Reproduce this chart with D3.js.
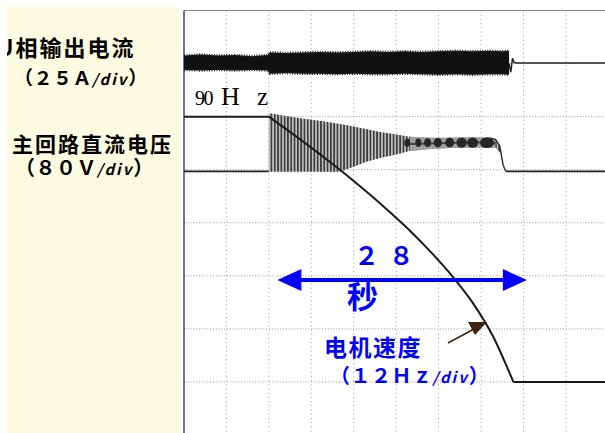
<!DOCTYPE html>
<html>
<head>
<meta charset="utf-8">
<script src="https://cdn.jsdelivr.net/npm/d3@7"></script>
<style>
body { margin: 0; background: #fff; }
svg { display: block; }
</style>
</head>
<body>
<div id="scope"></div>
<script>
// time axis in seconds (5 s per division), vertical values in screen divisions (0 = bottom edge)
const gridTimes = [5, 10, 15, 20, 25, 30, 35, 40, 45]
const gridDivs = [1, 2, 3, 4, 5, 6, 7]

// motor speed (Hz): steady part, deceleration ramp, stopped
const speedHoldTime = [0, 10]
const speedHold = [90, 90]
const speedTime = [10, 12.4, 14.8, 17.2, 19.6, 22.0, 24.4, 26.8, 29.2, 31.6, 34.0, 36.4, 38.8]
const speedHz = [90, 85.0, 79.9, 74.6, 69.1, 63.3, 57.2, 50.8, 43.7, 35.9, 26.9, 15.5, 0]
const speedStopTime = [38.8, 50]
const speedStop = [0, 0]

// phase output current envelope (divisions)
const currentTime = [0, 2, 4, 6, 8, 9.9, 10.1, 12, 14, 16, 18, 20, 22, 24, 26, 28, 30, 32, 34, 36, 37.5, 38.3]
const currentHigh = [7.15, 7.17, 7.15, 7.16, 7.14, 7.16, 7.21, 7.20, 7.21, 7.22, 7.21, 7.22, 7.23, 7.22, 7.23, 7.22, 7.23, 7.24, 7.23, 7.24, 7.23, 7.24]
const currentLow = [6.88, 6.87, 6.88, 6.87, 6.88, 6.87, 6.81, 6.82, 6.81, 6.81, 6.80, 6.81, 6.80, 6.80, 6.81, 6.80, 6.79, 6.80, 6.79, 6.80, 6.80, 6.79]
const currentTailTime = [38.3, 38.5, 38.7, 38.9, 39.2, 50]
const currentTail = [7.0, 6.84, 7.10, 7.02, 7.01, 7.01]

// DC bus voltage (divisions)
const voltBaseTime = [0, 10]
const voltBase = [4.97, 4.97]
const voltTime = [10.0, 11.3, 13.7, 16.0, 18.4, 19.6, 20.7, 21.3, 23.1, 24.9, 26.6, 29.0, 31.3, 33.7, 36.0, 36.7, 37.2, 37.6, 37.9]
const voltHigh = [6.07, 6.03, 5.97, 5.92, 5.86, 5.83, 5.79, 5.77, 5.71, 5.67, 5.62, 5.60, 5.60, 5.61, 5.60, 5.57, 5.45, 5.09, 4.97]
const voltLow = [4.96, 4.96, 4.96, 4.96, 4.96, 5.03, 5.10, 5.14, 5.22, 5.28, 5.35, 5.39, 5.41, 5.42, 5.42, 5.42, 5.33, 5.05, 4.97]
const voltEndTime = [37.9, 50]
const voltEnd = [4.97, 4.97]
const beadTime = [26.3, 27.6, 28.7, 29.9, 31.3, 32.7, 34.0, 35.7]
const beadSpan = [0.7, 0.7, 0.8, 0.95, 1.05, 1.2, 1.3, 1.65]
const beadLevel = 5.51

const svg = d3.select("#scope").append("svg")
  .attr("width", 605)
  .attr("height", 433)

const x = d3.scaleLinear().domain([0, 50]).range([184, 608.4])
const y = d3.scaleLinear().domain([0, 8]).range([435, 10.5])
const hz = d3.scaleLinear().domain([0, 90]).range([y(1), y(6)])

// cream label panel
svg.append("rect")
  .attr("x", 7).attr("y", 7).attr("width", 173).attr("height", 430)
  .attr("fill", "#fdfbe2")

svg.append("clipPath").attr("id", "panelClip")
  .append("rect").attr("x", 7).attr("y", 7).attr("width", 173).attr("height", 430)

const defs = svg.append("defs")
const stripe = defs.append("pattern")
  .attr("id", "vstripe")
  .attr("width", 3.3).attr("height", 10)
  .attr("patternUnits", "userSpaceOnUse")
stripe.append("rect").attr("width", 3.3).attr("height", 10).attr("fill", "#c4c4c4")
stripe.append("rect").attr("width", 1.7).attr("height", 10).attr("fill", "#3a3a3a")

// GRID
svg.append("g").selectAll("line").data(gridTimes).enter().append("line")
  .attr("x1", d => x(d)).attr("x2", d => x(d))
  .attr("y1", y(8)).attr("y2", 433)
  .attr("stroke", "#999").attr("stroke-width", 1)
  .attr("stroke-dasharray", "1,3.2")

svg.append("g").selectAll("line").data(gridDivs).enter().append("line")
  .attr("x1", 185).attr("x2", 605)
  .attr("y1", d => y(d)).attr("y2", d => y(d))
  .attr("stroke", "#999").attr("stroke-width", 1)
  .attr("stroke-dasharray", "1,1.8")

// frame
svg.append("line").attr("x1", 184).attr("x2", 605).attr("y1", y(8)).attr("y2", y(8))
  .attr("stroke", "#8a8a8a").attr("stroke-width", 1)
svg.append("line").attr("x1", 184).attr("x2", 184).attr("y1", y(8)).attr("y2", 433)
  .attr("stroke", "#555").attr("stroke-width", 1.6)

const line = d3.line().x(d => x(d[0])).y(d => y(d[1]))
const zip = (a, b) => a.map((v, i) => [v, b[i]])

// PHASE CURRENT
const currentBand = d3.area()
  .x(d => x(d[0])).y0(d => y(d[2])).y1(d => y(d[1]))
const currentData = currentTime.map((t, i) => [t, currentHigh[i], currentLow[i]])
svg.append("path").datum(currentData)
  .attr("d", currentBand)
  .attr("fill", "#111")
svg.append("path").datum(zip(currentTime, currentHigh))
  .attr("d", line).attr("fill", "none")
  .attr("stroke", "#222").attr("stroke-width", 2.5).attr("stroke-dasharray", "1,1.5")
svg.append("path").datum(zip(currentTime, currentLow))
  .attr("d", line).attr("fill", "none")
  .attr("stroke", "#222").attr("stroke-width", 2.5).attr("stroke-dasharray", "1,1.5")
svg.append("path").datum(zip(currentTailTime, currentTail))
  .attr("d", line).attr("fill", "none")
  .attr("stroke", "#222").attr("stroke-width", 1.5)

// DC BUS VOLTAGE
const voltData = voltTime.map((t, i) => [t, voltHigh[i], voltLow[i]])
svg.append("path").datum(voltData)
  .attr("d", d3.area().x(d => x(d[0])).y0(d => y(d[2])).y1(d => y(d[1])))
  .attr("fill", "url(#vstripe)")
svg.append("path").datum(voltData.slice(10, 16))
  .attr("d", d3.area().x(d => x(d[0])).y0(d => y(d[2])).y1(d => y(d[1])))
  .attr("fill", "#a0a0a0")
svg.append("path").datum(zip(voltTime, voltHigh.map((v, i) => (v + voltLow[i]) / 2)).slice(10, 16))
  .attr("d", line).attr("fill", "none")
  .attr("stroke", "#444").attr("stroke-width", 2)
svg.append("g").selectAll("ellipse").data(beadTime).enter().append("ellipse")
  .attr("cx", d => x(d))
  .attr("cy", y(beadLevel))
  .attr("rx", (d, i) => (x(beadSpan[i]) - x(0)) / 2)
  .attr("ry", (d, i) => 4 + i * 0.2)
  .attr("fill", "#262626")
svg.append("path").datum(zip(voltBaseTime, voltBase))
  .attr("d", line).attr("fill", "none")
  .attr("stroke", "#222").attr("stroke-width", 1.8)
svg.append("path").datum(zip(voltEndTime, voltEnd))
  .attr("d", line).attr("fill", "none")
  .attr("stroke", "#222").attr("stroke-width", 1.8)
svg.append("path").datum(zip(voltTime, voltHigh).slice(14))
  .attr("d", line).attr("fill", "none")
  .attr("stroke", "#333").attr("stroke-width", 1.4)

// MOTOR SPEED
const speedLine = d3.line().x(d => x(d[0])).y(d => hz(d[1]))
const speedCurve = d3.line().x(d => x(d[0])).y(d => hz(d[1])).curve(d3.curveMonotoneX)
svg.append("path").datum(zip(speedHoldTime, speedHold))
  .attr("d", speedLine)
  .attr("fill", "none").attr("stroke", "#1a1a1a").attr("stroke-width", 2)
svg.append("path").datum(zip(speedTime, speedHz))
  .attr("d", speedCurve)
  .attr("fill", "none").attr("stroke", "#1a1a1a").attr("stroke-width", 2)
svg.append("path").datum(zip(speedStopTime, speedStop))
  .attr("d", speedLine)
  .attr("fill", "none").attr("stroke", "#1a1a1a").attr("stroke-width", 2)

// LABELS
const cjk = "'Noto Sans CJK SC', 'Noto Sans CJK JP', sans-serif"
const labels = svg.append("g").attr("clip-path", "url(#panelClip)")
  .attr("font-family", cjk).attr("font-weight", "bold").attr("fill", "#000")

labels.append("text").attr("x", -3).attr("y", 56)
  .attr("font-size", 22).attr("letter-spacing", 2)
  .text("U相输出电流")
const l2 = labels.append("text").attr("x", 14).attr("y", 85)
  .attr("font-size", 19).attr("letter-spacing", 0.5)
l2.append("tspan").text("（２５Ａ")
l2.append("tspan").attr("font-size", 15).attr("font-style", "italic").attr("letter-spacing", 2).text("/div")
l2.append("tspan").text("）")

labels.append("text").attr("x", 12).attr("y", 152)
  .attr("font-size", 21).attr("letter-spacing", 2)
  .text("主回路直流电压")
const l4 = labels.append("text").attr("x", 15).attr("y", 175)
  .attr("font-size", 20).attr("letter-spacing", 0.5)
l4.append("tspan").text("（８０Ｖ")
l4.append("tspan").attr("font-size", 15).attr("font-style", "italic").attr("letter-spacing", 2).text("/div")
l4.append("tspan").text("）")

// 90Hz mark
const serif = "'Liberation Serif', 'DejaVu Serif', serif"
svg.append("text").attr("x", 195).attr("y", 105)
  .attr("font-family", serif).attr("font-size", 20).attr("letter-spacing", -1.5)
  .text("90")
svg.append("text").attr("x", 221).attr("y", 105)
  .attr("font-family", serif).attr("font-size", 26)
  .text("H")
svg.append("text").attr("x", 257).attr("y", 105)
  .attr("font-family", serif).attr("font-size", 25)
  .text("z")

// 28 s double arrow
const blue = "#0000ff"
const arrowFrom = 11.0, arrowTo = 40.4, arrowDiv = 2.92
const ay = y(arrowDiv)
svg.append("line")
  .attr("x1", x(arrowFrom) + 20).attr("x2", x(arrowTo) - 20)
  .attr("y1", ay).attr("y2", ay)
  .attr("stroke", blue).attr("stroke-width", 4)
svg.append("polygon")
  .attr("points", [[x(arrowFrom), ay], [x(arrowFrom) + 24, ay - 11], [x(arrowFrom) + 24, ay + 11]].join(" "))
  .attr("fill", blue)
svg.append("polygon")
  .attr("points", [[x(arrowTo), ay], [x(arrowTo) - 24, ay - 11], [x(arrowTo) - 24, ay + 11]].join(" "))
  .attr("fill", blue)

const notes = svg.append("g").attr("font-family", cjk).attr("fill", blue)
notes.append("text").attr("x", 354).attr("y", 265)
  .attr("font-size", 25).attr("font-weight", "bold").attr("letter-spacing", 2)
  .text("２ ８")
notes.append("text").attr("x", 347).attr("y", 308)
  .attr("font-size", 31).attr("font-weight", "bold")
  .text("秒")
notes.append("text").attr("x", 324).attr("y", 356)
  .attr("font-size", 23).attr("font-weight", "bold").attr("letter-spacing", 1.5)
  .text("电机速度")
const l5 = notes.append("text").attr("x", 330).attr("y", 383)
  .attr("font-size", 20).attr("font-weight", "bold").attr("letter-spacing", 0.5)
l5.append("tspan").text("（１２Ｈｚ")
l5.append("tspan").attr("font-size", 15).attr("font-style", "italic").attr("letter-spacing", 2).text("/div")
l5.append("tspan").text("）")

// pointer to speed curve
const brown = "#3d2410"
svg.append("line")
  .attr("x1", 448).attr("y1", 343).attr("x2", 474).attr("y2", 329)
  .attr("stroke", brown).attr("stroke-width", 1.5)
svg.append("polygon")
  .attr("points", "487,322 468,322 475,335")
  .attr("fill", brown)
</script>
</body>
</html>
